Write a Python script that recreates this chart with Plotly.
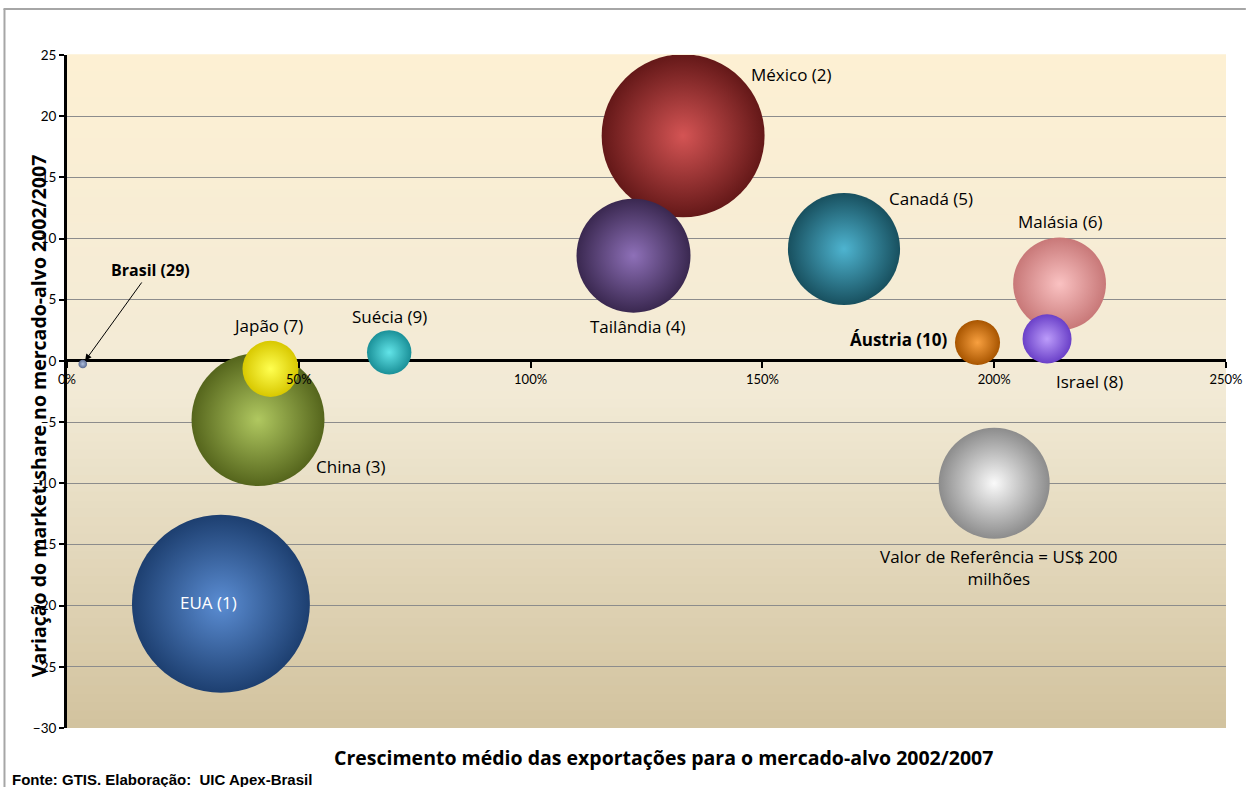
import plotly.graph_objects as go

# ---------------- data ----------------
countries = ["EUA (1)", "México (2)", "China (3)", "Tailândia (4)", "Canadá (5)", "Malásia (6)",
             "Japão (7)", "Israel (8)", "Suécia (9)", "Áustria (10)", "Brasil (29)",
             "Valor de Referência = US$ 200<br>milhões"]
growth = [0.332, 1.329, 0.412, 1.222, 1.676, 2.141, 0.439, 2.114, 0.695, 1.964, 0.034, 2.00]
share_change = [-19.85, 18.4, -4.8, 8.6, 9.15, 6.3, -0.65, 1.8, 0.7, 1.5, -0.25, -10.0]
export_value = [514, 431, 287, 211, 204, 140, 51, 39, 32, 33, 1.2, 200]

x_ticks = [0, 0.5, 1.0, 1.5, 2.0, 2.5]
y_ticks = list(range(-30, 30, 5))

# ---------------- styles ----------------
center_colors = ["#5B8DD3", "#D45454", "#B0C860", "#8E70B8", "#4EB4D0", "#FAC2C2",
                 "#FFFF50", "#BC9CFA", "#62E4E8", "#F8A040", "#B0C0E0", "#FAFAFA"]
edge_colors = ["#1D3F70", "#641818", "#55651C", "#3A2850", "#18505F", "#C87878",
               "#D8C800", "#6A40C8", "#1A9098", "#A85500", "#5A6A90", "#8C8C8C"]
# label placement: (xanchor, xshift px, yshift px, bold, color)
label_style = [
    ("center", -12, 1, False, "white"),
    ("left", 66, 61, False, "black"),
    ("left", 56, -47, False, "black"),
    ("center", 4, -71, False, "black"),
    ("left", 43, 50, False, "black"),
    ("center", 0, 62, False, "black"),
    ("center", -3, 43, False, "black"),
    ("center", 42, -43, False, "black"),
    ("center", 0, 36, False, "black"),
    ("right", -28, 3, True, "black"),
    None,
    ("center", 5, -84, False, "black"),
]

FONT = "Open Sans, Calibri, Carlito, sans-serif"
TICKFONT = "Lato, Calibri, sans-serif"
REF_VALUE, REF_DIAM = 200, 111
sizeref = 2.0 * REF_VALUE / REF_DIAM ** 2

W, H = 1255, 787
L, R, T, B = 67, 20, 55, 59
PW, PH = W - L - R, H - T - B


def px_x(p):
    return (p - L) / PW


def px_y(p):
    return (H - B - p) / PH


fig = go.Figure()

order = sorted(range(len(countries)), key=lambda i: -export_value[i])
for i in order:
    fig.add_trace(go.Scatter(
        x=[growth[i]], y=[share_change[i]], mode="markers",
        marker=dict(size=[export_value[i]], sizemode="area", sizeref=sizeref,
                    color=edge_colors[i], opacity=1,
                    gradient=dict(type="radial", color=center_colors[i]),
                    line=dict(width=0)),
        name=countries[i].replace("<br>", " "), showlegend=False, hoverinfo="name",
    ))

annotations = []
for i, name in enumerate(countries):
    st = label_style[i]
    if st is None:
        continue
    xa, xs, ys, bold, col = st
    annotations.append(dict(
        x=growth[i], y=share_change[i], xref="x", yref="y",
        text=f"<b>{name}</b>" if bold else name, showarrow=False,
        xanchor=xa, yanchor="middle", xshift=xs, yshift=ys,
        font=dict(family=FONT, size=17, color=col), align="center"))

# Brasil with arrow
bi = countries.index("Brasil (29)")
annotations.append(dict(
    x=growth[bi], y=share_change[bi], xref="x", yref="y",
    text="<b>Brasil (29)</b>", showarrow=True, ax=68, ay=-94,
    arrowhead=2, arrowsize=1.3, arrowwidth=1, arrowcolor="black", standoff=4,
    font=dict(family=FONT, size=16, color="black")))

# axis titles & source
annotations.append(dict(
    x=px_x(668), y=px_y(757), xref="paper", yref="paper", showarrow=False,
    text="<b>Crescimento médio das exportações para o mercado-alvo 2002/2007</b>",
    font=dict(family=FONT, size=19.5, color="black"), xanchor="center", yanchor="middle"))
annotations.append(dict(
    x=px_x(38), y=px_y(416), xref="paper", yref="paper", showarrow=False, textangle=-90,
    text="<b>Variação do market-share no mercado-alvo 2002/2007</b>",
    font=dict(family=FONT, size=19.5, color="black"), xanchor="center", yanchor="middle"))
annotations.append(dict(
    x=px_x(10), y=px_y(779), xref="paper", yref="paper", showarrow=False,
    text="<b>Fonte: GTIS. Elaboração:  UIC Apex-Brasil</b>",
    font=dict(family="Liberation Sans, Arial, sans-serif", size=15, color="black"),
    xanchor="left", yanchor="middle"))

# background gradient bands
shapes = []
stops = [(0.0, (253, 240, 211)), (0.5, (242, 234, 214)), (1.0, (210, 195, 158))]
N = 80


def interp(t):
    for (t0, c0), (t1, c1) in zip(stops[:-1], stops[1:]):
        if t0 <= t <= t1:
            f = (t - t0) / (t1 - t0)
            return tuple(int(round(a + (b - a) * f)) for a, b in zip(c0, c1))
    return stops[-1][1]


for k in range(N):
    t = (k + 0.5) / N
    c = interp(t)
    shapes.append(dict(type="rect", xref="paper", yref="paper", x0=0, x1=1,
                       y0=1 - (k + 1) / N, y1=1 - k / N + 0.001, layer="below",
                       line=dict(width=0), fillcolor=f"rgb{c}"))

# chart frame lines
shapes.append(dict(type="line", xref="paper", yref="paper", x0=px_x(3), x1=px_x(1255),
                   y0=px_y(9), y1=px_y(9), line=dict(color="#A6A6A6", width=2)))
shapes.append(dict(type="line", xref="paper", yref="paper", x0=px_x(4), x1=px_x(4),
                   y0=px_y(9), y1=px_y(787), line=dict(color="#A6A6A6", width=2)))

fig.update_layout(
    width=W, height=H, margin=dict(l=L, r=R, t=T, b=B),
    paper_bgcolor="white", plot_bgcolor="#F5EBD3",
    showlegend=False, annotations=annotations, shapes=shapes,
    xaxis=dict(range=[0, 2.5], tickvals=x_ticks, tickformat=".0%", showgrid=False,
               zeroline=False, showline=False, anchor="free", position=px_y(361),
               ticks="outside", ticklen=6, tickwidth=2, tickcolor="black",
               tickfont=dict(family=TICKFONT, size=13, color="black"), layer="above traces",
               fixedrange=True),
    yaxis=dict(range=[-30, 25], tickvals=y_ticks, showgrid=True, gridcolor="#8C8C8C", gridwidth=1,
               zeroline=True, zerolinecolor="black", zerolinewidth=3,
               showline=True, linecolor="black", linewidth=3, ticks="outside", ticklen=5,
               tickwidth=2, tickcolor="black",
               tickfont=dict(family=TICKFONT, size=13.5, color="black"), fixedrange=True),
    font=dict(family=FONT),
)

fig.write_html("out.html", config={"displayModeBar": False},
               post_script="document.body.style.margin='0';document.body.style.overflow='hidden';")
